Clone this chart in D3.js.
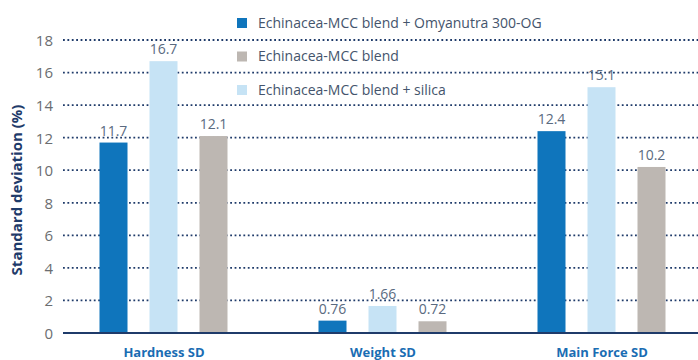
<!DOCTYPE html>
<html><head><meta charset="utf-8">
<script src="https://cdn.jsdelivr.net/npm/d3@7"></script>
<style>body{margin:0;background:#fff}svg{display:block}text{font-family:"Open Sans",sans-serif}</style>
</head><body><svg id="c" width="698" height="360"></svg>
<script>
const categories = ["Hardness SD", "Weight SD", "Main Force SD"];
const seriesNames = ["Echinacea-MCC blend + Omyanutra 300-OG", "Echinacea-MCC blend + silica", "Echinacea-MCC blend"];
const omyanutra = [11.7, 0.76, 12.4];
const silica = [16.7, 1.66, 15.1];
const blend = [12.1, 0.72, 10.2];
const valueLabels = [["11.7","0.76","12.4"],["16.7","1.66","15.1"],["12.1","0.72","10.2"]];
const legendOrder = ["Echinacea-MCC blend + Omyanutra 300-OG", "Echinacea-MCC blend", "Echinacea-MCC blend + silica"];
const yTicks = [0,2,4,6,8,10,12,14,16,18];
const colors = ["#0f75bc", "#c6e3f5", "#bdb7b2"];

const seriesValues = [omyanutra, silica, blend];
const svg = d3.select("#c");
const y = d3.scaleLinear().domain([0,18]).range([333,40]);
const x0 = d3.scalePoint().domain(categories).range([163.5,601.5]);
const x1 = d3.scaleBand().domain(seriesNames).range([-75,75]).paddingInner(0.44).paddingOuter(0.22);
const color = d3.scaleOrdinal().domain(seriesNames).range(colors);

// gridlines
svg.append("g").selectAll("line").data(yTicks.filter(t=>t>0)).join("line")
  .attr("x1",63).attr("x2",698).attr("y1",d=>y(d)).attr("y2",d=>y(d))
  .attr("stroke","#1f3b6a").attr("stroke-width",1.8).attr("stroke-dasharray","1.8,2.6");

// y axis ticks
const yAxis = svg.append("g").attr("transform","translate(63,0)")
  .call(d3.axisLeft(y).tickValues(yTicks).tickSize(0).tickPadding(10));
yAxis.select(".domain").remove();
yAxis.selectAll("text").attr("font-size",15).attr("fill","#6b6d70").attr("font-family","'Open Sans',sans-serif").attr("dy","0.36em");

// bars
const data = [];
seriesNames.forEach((s,i)=>categories.forEach((c,j)=>data.push({s,c,v:seriesValues[i][j],label:valueLabels[i][j]})));
svg.append("g").selectAll("rect").data(data).join("rect")
  .attr("x",d=>x0(d.c)+x1(d.s)).attr("width",x1.bandwidth())
  .attr("y",d=>y(d.v)).attr("height",d=>y(0)-y(d.v)).attr("fill",d=>color(d.s));
svg.append("g").selectAll("text").data(data).join("text")
  .attr("x",d=>x0(d.c)+x1(d.s)+x1.bandwidth()/2).attr("y",d=>y(d.v)-7)
  .attr("text-anchor","middle").attr("font-size",14).attr("fill","#5a6a80").text(d=>d.label);

// baseline
svg.append("line").attr("x1",63).attr("x2",698).attr("y1",y(0)).attr("y2",y(0))
  .attr("stroke","#1f3b6a").attr("stroke-width",2);

// x axis labels
const xAxis = svg.append("g").attr("transform",`translate(0,${y(0)})`)
  .call(d3.axisBottom(x0).tickSize(0).tickPadding(15));
xAxis.select(".domain").remove();
xAxis.selectAll("text").attr("font-size",13).attr("font-weight","bold").attr("fill","#1a6db3")
  .attr("font-family","'Open Sans',sans-serif").attr("dy","0.71em");

// y title
svg.append("text").attr("transform","translate(22,190) rotate(-90)").attr("text-anchor","middle")
  .attr("font-size",15).attr("font-weight","bold").attr("fill","#1f3b6a").text("Standard deviation (%)");

// legend
const lg = svg.append("g").selectAll("g").data(legendOrder).join("g")
  .attr("transform",(d,i)=>`translate(237,${23+i*33.5})`);
lg.append("rect").attr("x",0).attr("y",-5).attr("width",10).attr("height",10).attr("fill",d=>color(d));
lg.append("text").attr("x",21).attr("y",0).attr("dy","0.35em").attr("font-size",14).attr("fill","#44546c").text(d=>d);
</script></body></html>
